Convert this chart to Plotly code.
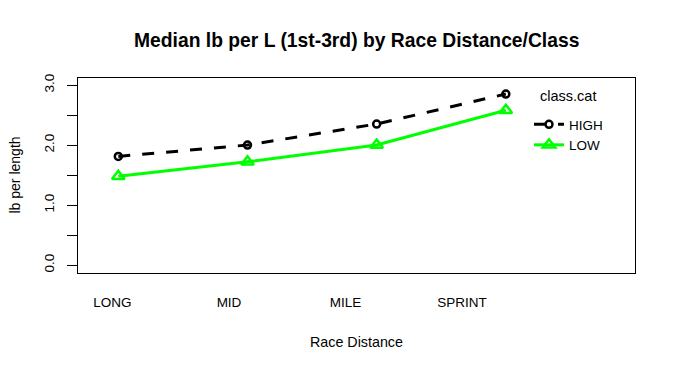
import plotly.graph_objects as go

categories = ["LONG", "MID", "MILE", "SPRINT"]
high_vals = [1.81, 2.00, 2.35, 2.85]
low_vals = [1.48, 1.72, 2.00, 2.58]
y_tick_vals = [0, 0.5, 1.0, 1.5, 2.0, 2.5, 3.0]
y_tick_text = ["0.0", "", "1.0", "", "2.0", "", "3.0"]

xpos = list(range(1, len(categories) + 1))
# R interaction.plot places its category labels slightly left of the points
label_pos = [0.955 + 0.902 * i for i in range(len(categories))]

FONT = "Liberation Sans, Arial, sans-serif"

# page offset (body margin) compensation
OFF = 8
W, H = 676, 371
PL, PR, PT, PB = 78, 635, 78, 273  # plot box in page pixels
L, T = PL - OFF, PT - OFF
R = W - (PR - OFF)
B = H - (PB - OFF)
pw = PR - PL
ph = PB - PT


def px(xp):
    return (xp - PL) / pw


def py(yp):
    return (PB - yp) / ph


fig = go.Figure()
fig.add_trace(go.Scatter(
    x=xpos, y=high_vals, name="HIGH", mode="lines+markers",
    line=dict(color="black", width=3, dash="12px,12px"),
    marker=dict(symbol="circle-open", size=7, color="black", line=dict(width=2.5, color="black")),
))
fig.add_trace(go.Scatter(
    x=xpos, y=low_vals, name="LOW", mode="lines+markers",
    line=dict(color="#00FF00", width=3),
    marker=dict(symbol="triangle-up-open", size=11, color="#00FF00", line=dict(width=2.5, color="#00FF00")),
))

fig.update_layout(
    width=W, height=H,
    margin=dict(l=L, r=R, t=T, b=B, pad=0),
    paper_bgcolor="white", plot_bgcolor="white",
    font=dict(family=FONT, size=14, color="black"),
    showlegend=True,
    legend=dict(
        x=px(529), y=py(109),
        xanchor="left", yanchor="top",
        bgcolor="rgba(0,0,0,0)", font=dict(size=13.5),
        itemwidth=30, tracegroupgap=0,
    ),
    xaxis=dict(
        range=[0.688, 5.0], tickvals=label_pos, ticktext=categories,
        ticks="", showgrid=False, zeroline=False,
        showline=True, linecolor="black", linewidth=1, mirror=True,
        ticklabelstandoff=17, tickfont=dict(size=13.5),
    ),
    yaxis=dict(
        range=[-0.133, 3.117], tickvals=y_tick_vals, ticktext=y_tick_text,
        ticks="outside", ticklen=10, tickwidth=1, tickcolor="black",
        tickangle=-90, showgrid=False, zeroline=False,
        showline=True, linecolor="black", linewidth=1, mirror=True,
        ticklabelstandoff=8, tickfont=dict(size=13.5),
    ),
    annotations=[
        dict(text="<b>Median lb per L (1st-3rd) by Race Distance/Class</b>",
             xref="paper", yref="paper", x=0.5, y=py(40),
             xanchor="center", yanchor="middle", showarrow=False,
             font=dict(size=19.3, family=FONT)),
        dict(text="Race Distance", xref="paper", yref="paper",
             x=0.5, y=py(342), xanchor="center", yanchor="middle",
             showarrow=False, font=dict(size=14.3, family=FONT)),
        dict(text="lb per length", xref="paper", yref="paper",
             x=px(14), y=0.5, xanchor="center", yanchor="middle",
             textangle=-90, showarrow=False, font=dict(size=14, family=FONT)),
        dict(text="class.cat", xref="paper", yref="paper",
             x=px(538), y=py(96), xanchor="left", yanchor="middle",
             showarrow=False, font=dict(size=14.5, family=FONT)),
    ],
)

fig.write_html("out.html")
